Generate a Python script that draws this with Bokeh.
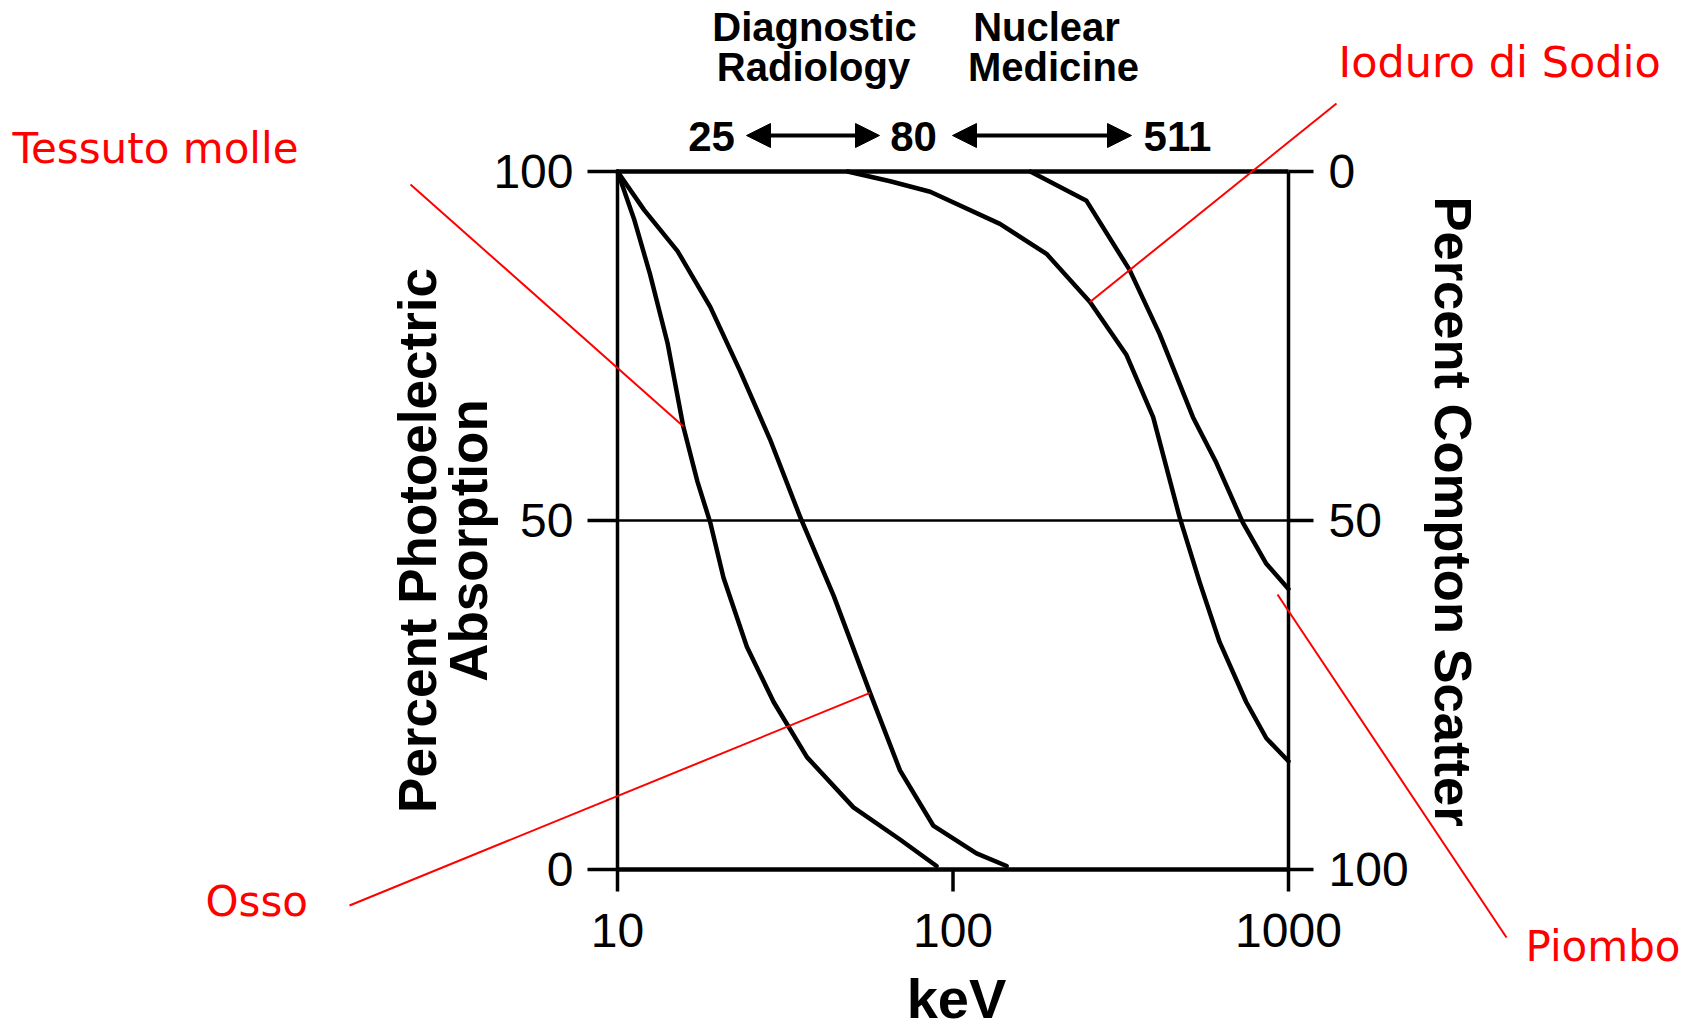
import math
from bokeh.plotting import figure
from bokeh.models import Range1d, Label, Arrow, NormalHead
from bokeh.core.properties import value
from bokeh.embed import file_html
from bokeh.resources import INLINE

# ---------------- data ----------------
tessuto_kev = [10, 11.2, 12.5, 14.1, 15.7, 17.3, 18.9, 20.7, 24.3, 29.2, 36.7, 50.5, 69.5, 89.3]
tessuto_pct = [100, 93.2, 85.3, 75.4, 63.5, 55.6, 49.7, 41.8, 31.9, 24.0, 16.1, 8.9, 4.3, 0.5]

osso_kev = [10, 12.0, 15.1, 18.9, 23.2, 28.5, 35.1, 44.1, 56.6, 69.5, 87.3, 117.5, 144.5]
osso_pct = [100, 94.5, 88.6, 80.6, 71.4, 61.6, 50.4, 39.2, 25.3, 14.2, 6.3, 2.3, 0.5]

nai_kev = [48.5, 65, 85.5, 138, 190, 256, 329, 395, 474, 544, 623, 748, 859, 1000]
nai_pct = [100, 98.6, 97.1, 92.5, 88.2, 81.3, 73.7, 64.8, 50.4, 41.1, 32.6, 24.0, 18.8, 15.5]

piombo_kev = [170, 250, 336, 413, 519, 609, 731, 859, 1000]
piombo_pct = [100, 95.8, 85.9, 76.7, 64.8, 58.3, 49.7, 43.8, 40.2]

x_ticks = [10, 100, 1000]
y_ticks = [0, 50, 100]
x_tick_labels = ["10", "100", "1000"]
y_left_labels = ["0", "50", "100"]
y_right_labels = ["100", "50", "0"]

# ---------------- layout geometry (pixels) ----------------
W, H = 1693, 1029
FL, FR, FT, FB = 617, 1288, 171, 869
XMIN, XMAX = x_ticks[0], x_ticks[-1]
YMIN, YMAX = y_ticks[0], y_ticks[-1]


def px2x(px):
    return 10 ** (1 + 2 * (px - FL) / (FR - FL))


def py2y(py):
    return 100 * (FB - py) / (FB - FT)


p = figure(width=W, height=H, x_axis_type="log",
           x_range=Range1d(px2x(0), px2x(W)), y_range=Range1d(py2y(H), py2y(0)),
           output_backend="svg", toolbar_location=None,
           x_axis_location=None, y_axis_location=None,
           min_border=0)
p.background_fill_color = "white"
p.border_fill_color = "white"
p.outline_line_color = None
p.grid.visible = False

INK = "black"
FRAME_W = 4.5

# frame box
p.segment(x0=[XMIN, XMAX], y0=[YMIN, YMIN], x1=[XMIN, XMAX], y1=[YMAX, YMAX],
          line_color=INK, line_width=3.5)
p.segment(x0=[XMIN, XMIN], y0=[YMIN, YMAX], x1=[XMAX, XMAX], y1=[YMIN, YMAX],
          line_color=INK, line_width=FRAME_W)
# 50 % line
p.segment(x0=[XMIN], y0=[y_ticks[1]], x1=[XMAX], y1=[y_ticks[1]],
          line_color=INK, line_width=2.5)

# ticks
n = len(y_ticks)
p.segment(x0=[px2x(FL - 30)] * n, y0=y_ticks, x1=[XMIN] * n, y1=y_ticks,
          line_color=INK, line_width=3.5)
p.segment(x0=[XMAX] * n, y0=y_ticks, x1=[px2x(FR + 25)] * n, y1=y_ticks,
          line_color=INK, line_width=3.5)
p.segment(x0=x_ticks, y0=[YMIN] * len(x_ticks), x1=x_ticks,
          y1=[py2y(FB + 22)] * len(x_ticks), line_color=INK, line_width=3.5)

TICK_FONT = value("Liberation Sans")
p.text(x=[px2x(FL - 44)] * n, y=y_ticks, text=y_left_labels, text_font=TICK_FONT,
       text_font_size="48px", text_align="right", text_baseline="middle", text_color=INK)
p.text(x=[px2x(FR + 40)] * n, y=y_ticks, text=y_right_labels, text_font=TICK_FONT,
       text_font_size="48px", text_align="left", text_baseline="middle", text_color=INK)
p.text(x=x_ticks, y=[py2y(930)] * len(x_ticks), text=x_tick_labels, text_font=TICK_FONT,
       text_font_size="48px", text_align="center", text_baseline="alphabetic", text_color=INK)

# curves
for xs, ys in [(tessuto_kev, tessuto_pct), (osso_kev, osso_pct),
               (nai_kev, nai_pct), (piombo_kev, piombo_pct)]:
    p.line(xs, ys, line_color=INK, line_width=4.5, line_join="round", line_cap="round")

BOLD = "Liberation Sans"


def add_label(text, px, py, size, align="center", angle=0.0, color="black",
              font=BOLD, style="bold"):
    p.add_layout(Label(x=px2x(px), y=py2y(py), text=text, text_font=font,
                       text_font_size=size, text_font_style=style,
                       text_color=color, text_align=align,
                       text_baseline="alphabetic", angle=angle))


# axis titles
add_label("Percent Photoelectric", 417, 540, "53px", angle=math.pi / 2)
add_label("Absorption", 468, 540, "53px", angle=math.pi / 2)
add_label("Percent Compton Scatter", 1453, 511, "52.5px", angle=-math.pi / 2)
add_label("keV", 956, 998, "56px")

# energy-range header
add_label("Diagnostic", 814, 26, "40px")
add_label("Radiology", 813, 66, "40px")
add_label("Nuclear", 1046, 26, "40px")
add_label("Medicine", 1053, 66, "40px")
add_label("25", 711, 136, "42px")
add_label("80", 913, 136, "42px")
add_label("511", 1177, 136, "42px")

for x0, x1 in [(746, 879), (952, 1131)]:
    p.add_layout(Arrow(x_start=px2x(x0), y_start=py2y(135),
                       x_end=px2x(x1), y_end=py2y(135),
                       line_color=INK, line_width=4,
                       start=NormalHead(size=24, fill_color=INK, line_color=INK, line_width=1),
                       end=NormalHead(size=24, fill_color=INK, line_color=INK, line_width=1)))

# red call-outs
RED = "#ff0000"
RFONT = "DejaVu Sans"
add_label("Tessuto molle", 12, 148, "42px", align="left", color=RED, font=RFONT, style="normal")
add_label("Ioduro di Sodio", 1338, 61, "43px", align="left", color=RED, font=RFONT, style="normal")
add_label("Osso", 205, 901, "42px", align="left", color=RED, font=RFONT, style="normal")
add_label("Piombo", 1525, 946, "42px", align="left", color=RED, font=RFONT, style="normal")

leader_start_x = [px2x(410), px2x(1336), px2x(349), px2x(1506)]
leader_start_y = [py2y(184), py2y(103), py2y(905), py2y(937)]
leader_end_x = [tessuto_kev[4], nai_kev[5], osso_kev[8], px2x(1277)]
leader_end_y = [tessuto_pct[4], nai_pct[5], osso_pct[8], py2y(594)]
p.segment(x0=leader_start_x, y0=leader_start_y, x1=leader_end_x, y1=leader_end_y,
          line_color=RED, line_width=2)

open("out.html", "w").write(file_html(p, INLINE))
